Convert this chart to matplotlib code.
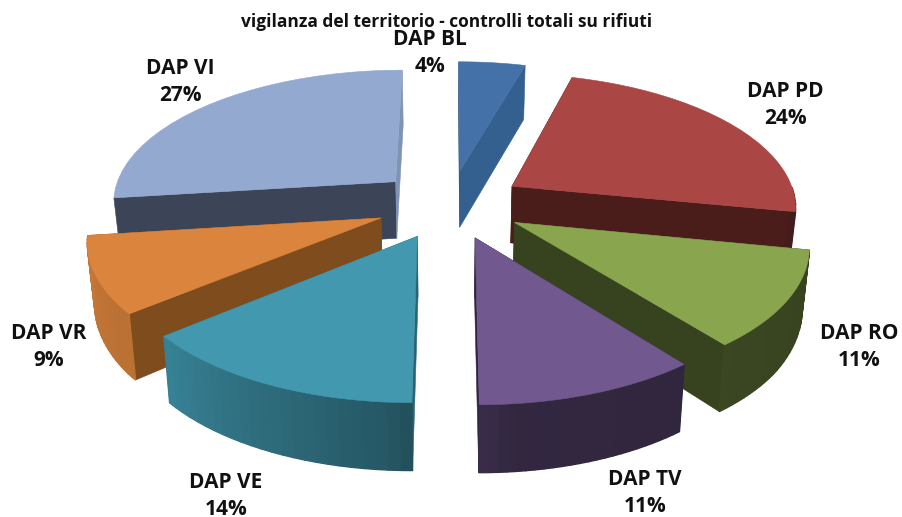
import numpy as np
import matplotlib
matplotlib.use("Agg")
import matplotlib.pyplot as plt
from matplotlib.patches import Polygon

title = "vigilanza del territorio - controlli totali su rifiuti"
names = ["DAP BL", "DAP PD", "DAP RO", "DAP TV", "DAP VE", "DAP VR", "DAP VI"]
# printed as whole numbers on the chart, the slices are a little off from those
percent = [4.4, 23.7, 11.3, 10.6, 14.0, 9.0, 27.0]

top_colors = ["#4472a8", "#aa4644", "#89a54e", "#71588f", "#4198af", "#db843d", "#93a9cf"]
# colour of the cut faces (start of slice, end of slice)
cut_colors = [("#2c5380", "#34608f"), ("#4a1c1a", "#4a1c1a"), ("#37431f", "#37431f"),
              ("#2e2440", "#2e2440"), ("#2a6474", "#2a6474"), ("#7f4c1e", "#7f4c1e"),
              ("#3b4557", "#7f93b5")]
label_xy = [(430, 53), (785, 105), (859, 347), (645, 493), (226, 496), (49, 347), (180, 82)]
draw_order = [0, 6, 1, 5, 2, 4, 3]

# pie geometry in pixels
CX, CY = 450, 204
RX, RY = 285, 133
EXPLODE = 0.26
PERSP = 0.14


def project(u, v):
    # ground plane -> screen, front of the pie gets bigger
    w = 1 / (1 - PERSP * v)
    return CX + RX * u * w, CY + RY * v * w


def depth(v):
    return np.interp(v, [-1.25, 0, 0.7, 1.25], [54, 57, 66, 68])


def wall_shade(angle):
    # outer wall brightness, lit from the left
    return np.interp(angle, [100, 175, 185, 230, 263], [0.40, 0.45, 0.58, 0.85, 0.90])


def ground(angles, radius, mid):
    a = np.radians(angles)
    m = np.radians(mid)
    u = EXPLODE * np.sin(m) + radius * np.sin(a)
    v = -EXPLODE * np.cos(m) - radius * np.cos(a)
    return u, v


def bottom(u, v):
    x, y = project(u, v)
    return x - (x - CX) * 0.02, y + depth(v)


def add_face(ax, xs, ys, color, lw=0.4):
    ax.add_patch(Polygon(np.column_stack([xs, ys]), closed=True, facecolor=color,
                         edgecolor=color, linewidth=lw))


def cut_wall(ax, angle, mid, color):
    u, v = ground(np.array([angle, angle]), np.array([0.0, 1.0]), mid)
    xt, yt = project(u, v)
    xb, yb = bottom(u, v)
    add_face(ax, [xt[0], xt[1], xb[1], xb[0]], [yt[0], yt[1], yb[1], yb[0]], color)


def draw_slice(ax, start, end, top_color, cuts):
    mid = (start + end) / 2
    base = np.array(matplotlib.colors.to_rgb(top_color))
    angles = np.linspace(start, end, 25)
    cut_wall(ax, start, mid, cuts[0])
    cut_wall(ax, end, mid, cuts[1])
    # outer wall, only the part that looks at us
    for a0, a1 in zip(angles[:-1], angles[1:]):
        if (a0 + a1) / 2 < 90 or (a0 + a1) / 2 > 263:
            continue
        u, v = ground(np.array([a0, a1]), 1.0, mid)
        xt, yt = project(u, v)
        xb, yb = bottom(u, v)
        add_face(ax, [xt[0], xt[1], xb[1], xb[0]], [yt[0], yt[1], yb[1], yb[0]],
                 tuple(base * wall_shade((a0 + a1) / 2)), lw=1.0)
    u, v = ground(angles, 1.0, mid)
    tip_u, tip_v = ground(np.array([mid]), 0.0, mid)
    xs, ys = project(np.append(u, tip_u), np.append(v, tip_v))
    add_face(ax, xs, ys, top_color)


fig = plt.figure(figsize=(9.02, 5.17), dpi=100)
ax = fig.add_axes([0, 0, 1, 1])
ax.set_xlim(0, 902)
ax.set_ylim(517, 0)
ax.axis("off")

edges = np.concatenate([[0], np.cumsum(percent)]) / sum(percent) * 360
for i in draw_order:
    draw_slice(ax, edges[i], edges[i + 1], top_colors[i], cut_colors[i])

ax.text(447, 22, title, ha="center", va="center", fontsize=12.5, fontweight="bold",
        family="Open Sans", color="#111111")
for name, pct, (x, y) in zip(names, percent, label_xy):
    ax.text(x, y, f"{name}\n{round(pct)}%", ha="center", va="center", fontsize=15,
            fontweight="bold", family="Open Sans", color="#111111", linespacing=1.38)

fig.savefig("out.png", dpi=100)
